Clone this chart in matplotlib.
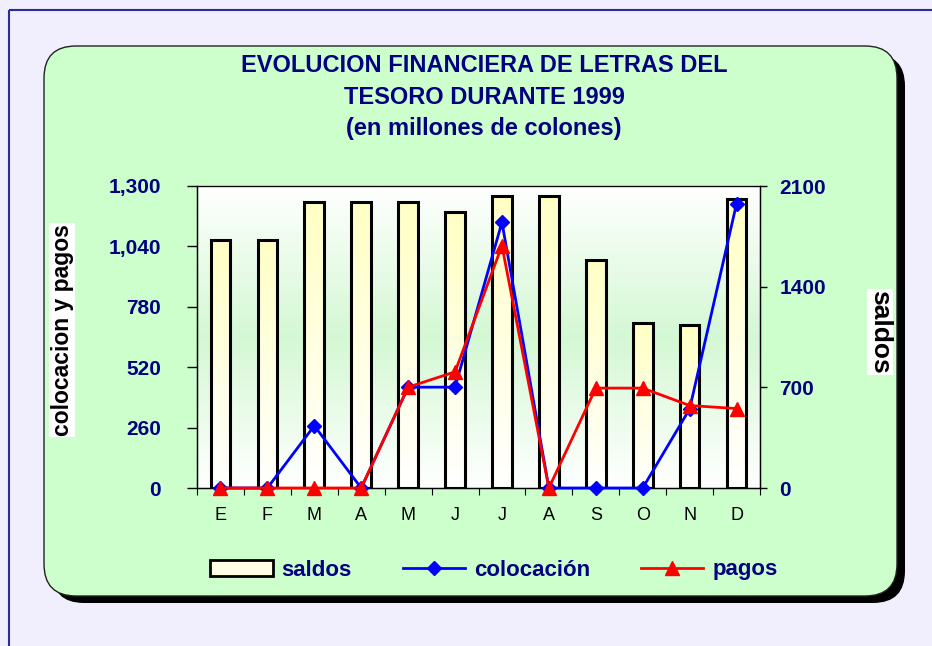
import numpy as np
import matplotlib.pyplot as plt
from matplotlib.patches import FancyBboxPatch, Rectangle
from matplotlib.lines import Line2D
from matplotlib.colors import LinearSegmentedColormap

plt.rcParams['font.family'] = ['Liberation Sans', 'DejaVu Sans']

# datos (millones de colones)
meses = ['E', 'F', 'M', 'A', 'M', 'J', 'J', 'A', 'S', 'O', 'N', 'D']
saldos = [1723, 1723, 1991, 1991, 1991, 1919, 2033, 2033, 1584, 1150, 1132, 2010]
colocacion = [0, 0, 268, 0, 434, 434, 1144, 0, 0, 0, 340, 1224]
pagos = [0, 0, 0, 0, 434, 500, 1043, 0, 430, 430, 355, 342]
ticks_izq = [0, 260, 520, 780, 1040, 1300]
labels_izq = ['0', '260', '520', '780', '1,040', '1,300']
ticks_der = [0, 700, 1400, 2100]

navy = '#000080'
W, H = 932, 646

fig = plt.figure(figsize=(W / 100, H / 100), dpi=100)
fig.patch.set_facecolor('#F1EEFD')

# fondo en coordenadas de pixel
bg = fig.add_axes([0, 0, 1, 1], zorder=-10)
bg.set_xlim(0, W)
bg.set_ylim(H, 0)
bg.axis('off')
bg.add_patch(Rectangle((9, 10), 960, 680, fill=False, ec='#2B2B9C', lw=1.5))
bg.add_patch(FancyBboxPatch((52, 54), 853, 549, boxstyle='round,pad=0,rounding_size=32',
                            fc='black', ec='black', lw=0))
bg.add_patch(FancyBboxPatch((44, 46), 853, 550, boxstyle='round,pad=0,rounding_size=32',
                            fc='#CCFFCC', ec='#222222', lw=1))

# titulo
for ty, txt in [(66, 'EVOLUCION FINANCIERA DE LETRAS DEL'),
                (98, 'TESORO DURANTE 1999'),
                (128, '(en millones de colones)')]:
    fig.text(484 / W, 1 - ty / H, txt, color=navy, fontsize=17,
             fontweight='bold', ha='center', va='center')

# ejes
ax = fig.add_axes([197 / W, 1 - 488 / H, 563 / W, 302 / H])
x = np.arange(len(meses))

green_cm = LinearSegmentedColormap.from_list('g', ['#FFFFFF', '#D4F8D4', '#FFFFFF'])
grad = np.linspace(0, 1, 256).reshape(-1, 1)
ax.imshow(grad, extent=[-0.5, 11.5, 0, 2100], aspect='auto', cmap=green_cm, zorder=0)

yellow_cm = LinearSegmentedColormap.from_list('y', ['#FFFFFF', '#FFFFC4'])
bw = 0.42
bars = ax.bar(x, saldos, width=bw, color='none', edgecolor='black', lw=2.2, zorder=2)
for b, h in zip(bars, saldos):
    im = ax.imshow(np.linspace(1, 0, 256).reshape(-1, 1),
                   extent=[b.get_x(), b.get_x() + bw, 0, h],
                   aspect='auto', cmap=yellow_cm, zorder=1.5)
    im.set_clip_path(b)

ax.set_xlim(-0.5, 11.5)
ax.set_ylim(0, 2100)
ax.set_xticks(np.arange(-0.5, 12, 1))
ax.set_xticklabels([])
ax.set_xticks(x, minor=True)
ax.set_xticklabels(meses, minor=True)
ax.tick_params(axis='x', which='major', direction='out', length=5)
ax.tick_params(axis='x', which='minor', length=0, pad=14, labelsize=13)
for s in ax.spines.values():
    s.set_linewidth(1)
ax.spines['top'].set_color('#556655')

ax2 = ax.twinx()
ax2.patch.set_visible(False)
ax2.set_ylim(0, 1300)

# saldos a la derecha, colocacion y pagos a la izquierda
ax.yaxis.set_ticks_position('right')
ax.set_yticks(ticks_der)
ax.set_yticklabels([str(t) for t in ticks_der], fontweight='bold')
ax.tick_params(axis='y', direction='out', length=5, pad=9, labelsize=15,
               labelcolor=navy, width=1, left=False, labelleft=False,
               right=True, labelright=True)

ax2.yaxis.set_ticks_position('left')
ax2.set_yticks(ticks_izq)
ax2.set_yticklabels(labels_izq, fontweight='bold')
ax2.tick_params(axis='y', direction='out', length=7, pad=19, labelsize=15,
                labelcolor=navy, width=1, left=True, labelleft=True,
                right=False, labelright=False)

ax2.plot(x, colocacion, color='#0000FF', lw=2, marker='D', ms=7, zorder=3, clip_on=False)
ax2.plot(x, pagos, color='#FF0000', lw=2, marker='^', ms=10, zorder=4, clip_on=False)

# etiquetas de ejes
fig.text(62 / W, 1 - 330 / H, 'colocacion y pagos', rotation=90, fontsize=16.5,
         fontweight='bold', ha='center', va='center',
         bbox=dict(fc='white', ec='none', pad=1))
fig.text(880 / W, 1 - 332 / H, 'saldos', rotation=270, fontsize=19,
         fontweight='bold', ha='center', va='center',
         bbox=dict(fc='white', ec='none', pad=1))

# leyenda
handles = [Rectangle((0, 0), 1, 1, fc='#FFFFE6', ec='black', lw=2),
           Line2D([], [], color='#0000FF', lw=2, marker='D', ms=7),
           Line2D([], [], color='#FF0000', lw=2, marker='^', ms=10)]
leg = fig.legend(handles, ['saldos', 'colocación', 'pagos'], ncol=3,
                 loc='center', bbox_to_anchor=(494 / W, 1 - 570 / H), frameon=False,
                 prop={'weight': 'bold', 'size': 16}, handlelength=2.8,
                 handletextpad=0.4, columnspacing=2.3, handleheight=0.7)
for t in leg.get_texts():
    t.set_color(navy)

fig.savefig('out.png', dpi=100)
